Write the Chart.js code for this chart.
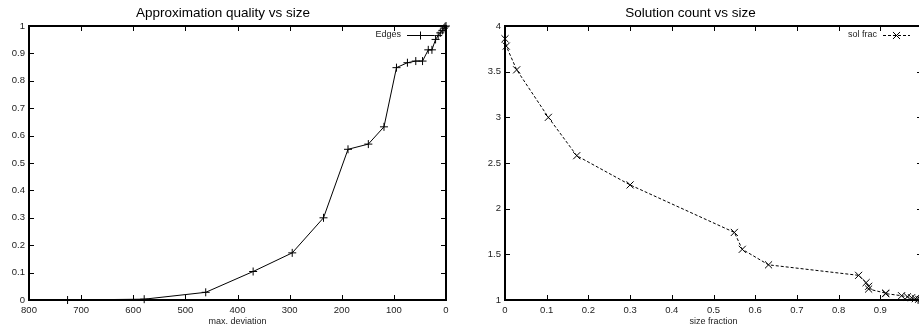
<!DOCTYPE html>
<html>
<head>
<meta charset="utf-8">
<script src="https://cdn.jsdelivr.net/npm/chart.js@4.4.1/dist/chart.umd.min.js"></script>
<style>
  html, body { margin: 0; padding: 0; background: #fff; overflow: hidden; width: 919px; height: 330px; }
  canvas { position: absolute; top: 0; }
  #qualityChart { left: 0; }
  #solutionChart { left: 459px; }
</style>
</head>
<body>
<canvas id="qualityChart" width="475" height="330"></canvas>
<canvas id="solutionChart" width="509" height="330"></canvas>
<script>
// size fraction is shared (left y, right x)
const maxDeviation = [726, 579, 461, 370, 295, 235, 188, 149, 119, 95, 74, 58, 45, 34, 27, 20, 15, 11, 7, 4, 2, 0];
const sizeFraction = [0, 0.003, 0.028, 0.104, 0.172, 0.300, 0.550, 0.569, 0.632, 0.848, 0.866, 0.872, 0.872, 0.913, 0.913, 0.951, 0.965, 0.975, 0.984, 0.992, 0.997, 1.0];
const solFrac = [3.86, 3.78, 3.52, 3.00, 2.58, 2.26, 1.74, 1.555, 1.385, 1.27, 1.19, 1.15, 1.12, 1.075, 1.07, 1.047, 1.035, 1.025, 1.015, 1.008, 1.003, 1.0];

const deviationTicks = [0, 100, 200, 300, 400, 500, 600, 700, 800];
const qualityTicks = [0, 0.1, 0.2, 0.3, 0.4, 0.5, 0.6, 0.7, 0.8, 0.9, 1];
const fractionTicks = [0, 0.1, 0.2, 0.3, 0.4, 0.5, 0.6, 0.7, 0.8, 0.9, 1];
const countTicks = [1, 1.5, 2, 2.5, 3, 3.5, 4];

Chart.defaults.font.family = "'Liberation Sans', Arial, sans-serif";
Chart.defaults.color = '#222';

// gnuplot style box with inward ticks on all four sides, plus key in the top right corner
const gnuFrame = {
    id: 'gnuFrame',
    afterDatasetsDraw(chart) {
        const { ctx, chartArea: a, scales: { x, y } } = chart;
        ctx.save();
        ctx.strokeStyle = '#000';
        ctx.lineWidth = 1;
        ctx.beginPath();
        x.ticks.forEach(t => {
            const px = Math.round(x.getPixelForValue(t.value)) + 0.5;
            ctx.moveTo(px, a.bottom); ctx.lineTo(px, a.bottom - 5);
            ctx.moveTo(px, a.top); ctx.lineTo(px, a.top + 5);
        });
        y.ticks.forEach(t => {
            const py = Math.round(y.getPixelForValue(t.value)) + 0.5;
            ctx.moveTo(a.left, py); ctx.lineTo(a.left + 5, py);
            ctx.moveTo(a.right, py); ctx.lineTo(a.right - 5, py);
        });
        ctx.stroke();
        ctx.lineWidth = 2;
        ctx.strokeRect(Math.round(a.left), Math.round(a.top), Math.round(a.width), Math.round(a.height));

        const ds = chart.data.datasets[0];
        const ky = a.top + 9;
        ctx.font = "9px 'Liberation Sans', Arial, sans-serif";
        ctx.fillStyle = '#222';
        ctx.textAlign = 'right';
        ctx.textBaseline = 'middle';
        ctx.fillText(ds.label, a.right - 45, ky);
        ctx.lineWidth = 1;
        ctx.setLineDash(ds.borderDash || []);
        ctx.beginPath();
        ctx.moveTo(a.right - 39, ky + 0.5);
        ctx.lineTo(a.right - 12, ky + 0.5);
        ctx.stroke();
        ctx.setLineDash([]);
        Chart.helpers.drawPoint(ctx, { pointStyle: ds.pointStyle, radius: ds.pointRadius, borderWidth: 1, rotation: 0 }, a.right - 25.5, ky + 0.5);
        ctx.restore();
    }
};

function axis(min, max, values, extra) {
    return Object.assign({
        type: 'linear', min, max,
        grid: { display: false, drawTicks: false },
        border: { display: false },
        afterBuildTicks: s => { s.ticks = values.map(v => ({ value: v })); },
        ticks: { font: { size: 9.5 }, color: '#222', autoSkip: false, maxRotation: 0, callback: v => String(v) }
    }, extra);
}

function makeChart(id, label, xs, ys, style, xAxis, yAxis, yWidth) {
    return new Chart(document.getElementById(id), {
        type: 'scatter',
        data: {
            datasets: [{
                label,
                data: xs.map((v, i) => ({ x: v, y: ys[i] })),
                showLine: true,
                borderColor: '#000',
                backgroundColor: '#000',
                borderWidth: 1,
                pointBorderWidth: 1,
                clip: false,
                ...style
            }]
        },
        options: {
            responsive: false,
            animation: false,
            layout: { padding: { left: 0, right: yWidth, top: 0, bottom: 0 } },
            plugins: {
                legend: { display: false },
                tooltip: { enabled: false },
                title: {
                    display: true, text: style.title, color: '#000',
                    font: { size: 13.5, weight: 'normal' }, padding: { top: 5, bottom: 4.8 }
                }
            },
            scales: {
                x: Object.assign(xAxis, { afterFit: s => { s.height = 30; } }),
                y: Object.assign(yAxis, { afterFit: s => { s.width = yWidth; } })
            }
        },
        plugins: [gnuFrame]
    });
}

const axisTitle = text => ({ display: true, text, color: '#222', font: { size: 9 }, padding: { top: 0, bottom: 3 } });

const xDev = axis(0, 800, deviationTicks, { reverse: true, title: axisTitle('max. deviation') });
xDev.ticks.padding = 5;
const yQual = axis(0, 1, qualityTicks, {});
yQual.ticks.padding = 4;
makeChart('qualityChart', 'Edges', maxDeviation, sizeFraction,
    { pointStyle: 'cross', pointRadius: 4, title: 'Approximation quality vs size' }, xDev, yQual, 29);

const xFrac = axis(0, 1, fractionTicks, { title: axisTitle('size fraction') });
xFrac.ticks.padding = 5;
const yCount = axis(1, 4, countTicks, {});
yCount.ticks.padding = 4;
makeChart('solutionChart', 'sol frac', sizeFraction, solFrac,
    { pointStyle: 'crossRot', pointRadius: 5, borderDash: [3, 2], title: 'Solution count vs size' }, xFrac, yCount, 46);
</script>
</body>
</html>
